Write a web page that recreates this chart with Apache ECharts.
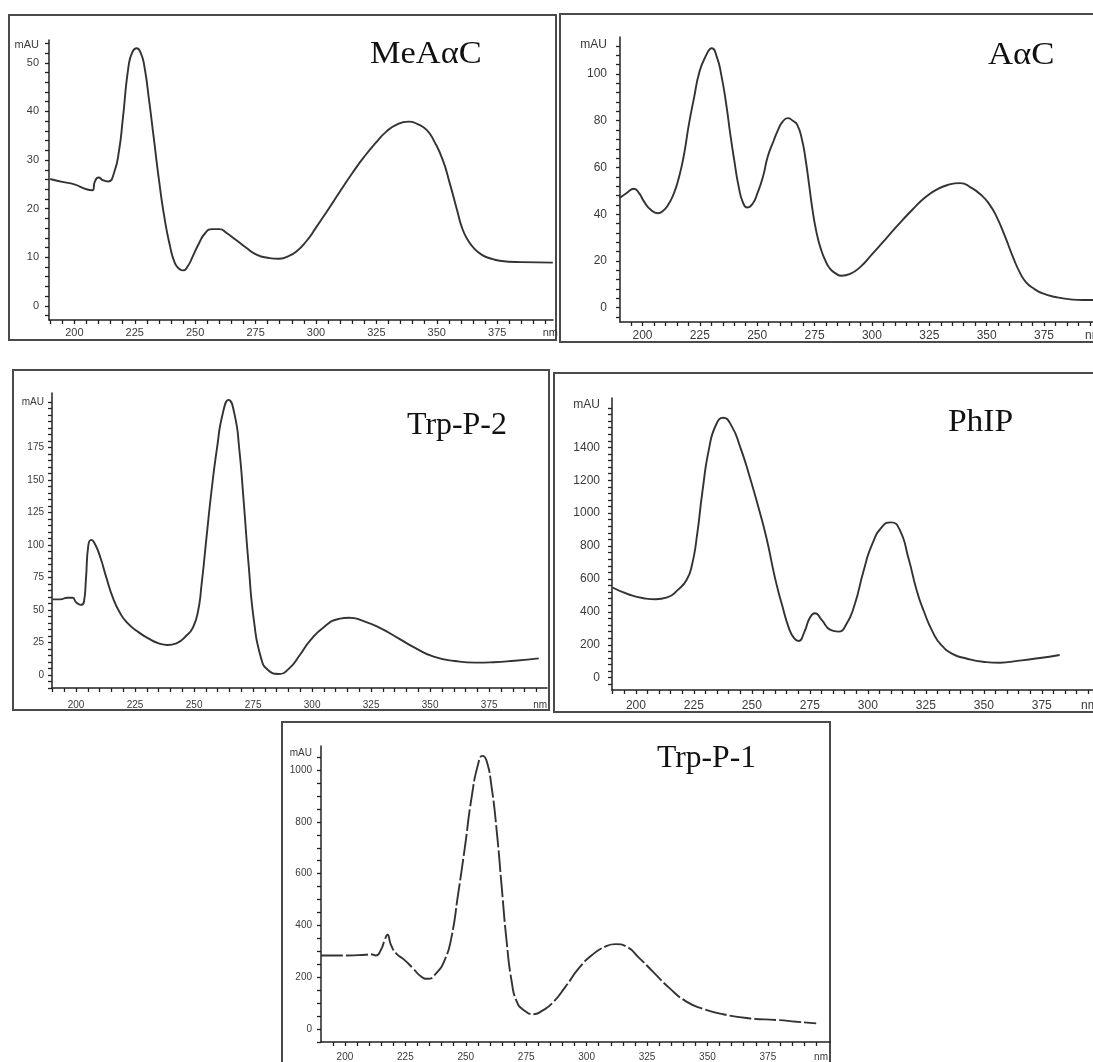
<!DOCTYPE html>
<html><head><meta charset="utf-8">
<script src="https://cdn.jsdelivr.net/npm/echarts@6/dist/echarts.min.js"></script>
<style>html,body{margin:0;padding:0;background:#fff}#c{width:1093px;height:1062px}</style>
</head><body><div id="c"></div>
<script>
// ---------- data (wavelength nm / absorbance mAU) ----------
const MEAAC_NM  = [190,195,200,205,207.5,208.5,210,212,214,216.5,218.5,220,222.4,224,225.8,227.5,229,231,232.8,235,237.2,239.5,241.6,243.5,245,247,249,251.5,254.2,257,260,263,266.8,271,275.6,280,284.5,288,291.9,296,300,305,310,315,320,325,329,333,338.4,342,345.8,349,352.5,355.5,358.4,360.5,362.8,365.5,368.7,372,376,385,398];
const MEAAC_MAU = [26.1,25.5,25.0,24.0,23.8,25.6,26.4,25.8,25.6,27.5,32,38.2,49.2,52.2,53.0,52,49.2,42,34.8,26,18.4,12.5,8.8,7.6,7.3,8.2,10.2,12.8,15,15.8,15.8,15,13.6,12,10.5,9.9,9.7,10.1,11.2,13.3,16.1,19.8,23.6,27.3,30.7,33.7,35.8,37.2,37.9,37.4,36.2,33.8,30,25,19.7,16,13.6,11.8,10.5,9.8,9.3,9.0,8.9];

const AAC_NM  = [190,193,196.3,198.5,200.7,203.5,206.7,209,211.2,213.5,215.6,218,220.2,222.5,224.7,227.5,230.2,232.5,234.4,236.5,238.2,240,241.9,243.8,245.7,248,250.1,252.5,254.6,257,259.1,261,263.3,265.5,267.4,269.5,271.1,272.7,274.1,276,277.9,279.8,281.6,284,286.9,290.5,295.1,300,304.1,311,317.6,323,328,333,338.5,343,347.5,351,354.3,358,361.7,364.5,367,370.5,374.5,380,386.5,392,399];
const AAC_MAU = [46.9,49,50.9,49,45.4,42,40.4,41.5,44,48.5,54.7,65,78.3,90,100.4,107.5,111,107,99.3,87,74.7,63,51.9,45,42.9,44.5,49,56,64.7,71,76.1,79.5,81.1,80,78.3,72,63.3,52,41.9,31.5,24.7,20,16.9,14.8,13.7,14.5,17.6,22.8,27.3,35,41.9,47,50.4,52.5,53.3,51.5,48.3,44.5,39,30.5,21.1,15,11.1,8.2,6.1,4.6,3.6,3.3,3.3];

const TRPP2_NM  = [190,193.3,196.3,198.5,200,202,203.3,204.2,205.2,206.4,208.2,210.4,212.7,215.7,218.7,221.6,226.1,230.6,235,238.8,242.5,247,249.3,251.5,253.3,255.2,257.5,259.7,262,264.6,267.2,269.1,270.9,273.1,275.4,278.4,281.3,285.8,290.3,294.8,299.3,305.2,311.2,315.7,321.6,329.1,336.6,344,351.5,360.4,369.4,376.9,385.8,396];
const TRPP2_MAU = [58.2,58.2,59.5,59.5,56,54,56,74.4,100,104,100,89.8,75.7,59,47.5,40.3,33.4,28.2,24.4,23.1,24.4,30.8,35.9,47.5,71.9,105,143.7,174.5,200,211.7,200,174.5,136,84.7,41,12.8,3.8,0.8,5.1,15.4,26.9,37.2,43.1,44.1,41.6,35.9,28.2,20.5,14.1,10.8,9.5,9.8,11,12.8];

const PHIP_NM  = [189.9,197.3,203.3,208.5,213.7,218.2,221.9,224.2,226.4,228.7,231.6,234.6,237.6,241.3,245.1,248.8,252.5,256.3,260,263,266,268.2,270.1,272.7,274.9,277.2,280.1,283.9,287.3,290.6,294.3,298.1,301.8,306.3,310,313.7,317.5,321.2,324.2,327.9,331.6,336.9,342.1,349.6,357,364.5,373.4,382.7];
const PHIP_MAU = [548,504,483,477,489,535,595,686,869,1133,1397,1539,1580,1529,1397,1234,1052,849,605,443,300,240,223,280,361,392,351,290,280,321,443,646,808,920,944,900,727,524,402,280,199,142,118,97,91,102,118,138];

const TRPP1_NM  = [190.1,201,208.6,210.7,212.8,214.9,216.5,217.6,219,221.1,224.6,228.1,231.5,234.3,237.8,241.3,244,246.8,249.6,252.4,255.1,256.9,258.6,260.7,262.8,264.9,266.9,269,271.1,273.9,278.1,281.5,285.7,291.3,296.8,302.4,307.9,312.1,316.3,321.8,327.4,334.3,341.3,348.2,356.5,367.6,378.7,387,395];
const TRPP1_MAU = [284,284,287,289,284,306,345,364,326,293,267,235,203,194,216,267,351,519,700,894,1023,1055,1036,933,765,545,339,183,106,74,57,70,99,164,235,287,319,328,319,274,222,158,106,78,57,41,35,28,22];

// ---------- tick labels ----------
const X_TICK_LABELS = [200,225,250,275,300,325,350,375];
const MEAAC_Y_LABELS = [0,10,20,30,40,50];
const AAC_Y_LABELS   = [0,20,40,60,80,100];
const TRPP2_Y_LABELS = [0,25,50,75,100,125,150,175];
const PHIP_Y_LABELS  = [0,200,400,600,800,1000,1200,1400];
const TRPP1_Y_LABELS = [0,200,400,600,800,1000];
const TITLES = ['MeA\u03b1C','A\u03b1C','Trp-P-2','PhIP','Trp-P-1'];

// ---------- layout ----------
const panels = [
  {nm:MEAAC_NM, mau:MEAAC_MAU, ylab:MEAAC_Y_LABELS, ystep:2,
   grid:{left:49,top:40,width:504,height:280}, x:[189.5,398.1], y:[-2.9,54.7], mauAt:53.6, nmAt:397,
   fs:11, ym:10, xm:7, box:[9,15,547,325], title:{x:370,y:55,sx:1.11}, dash:'solid'},
  {nm:AAC_NM, mau:AAC_MAU, ylab:AAC_Y_LABELS, ystep:4,
   grid:{left:620,top:37,width:480,height:285}, x:[190.2,399.4], y:[-6.1,115.8], mauAt:112.4, nmAt:396.5,
   fs:12, ym:13, xm:8, box:[560,14,560,328], title:{x:988,y:55.5,sx:1.12}, dash:'solid'},
  {nm:TRPP2_NM, mau:TRPP2_MAU, ylab:TRPP2_Y_LABELS, ystep:5,
   grid:{left:52,top:393,width:495,height:295}, x:[189.8,399.5], y:[-10,217], mauAt:210, nmAt:396.6,
   fs:10, ym:8, xm:12, box:[13,370,536,340], title:{x:407,y:426,sx:1.03}, dash:'solid'},
  {nm:PHIP_NM, mau:PHIP_MAU, ylab:PHIP_Y_LABELS, ystep:40,
   grid:{left:612,top:398,width:488,height:292}, x:[189.7,400.1], y:[-75,1700], mauAt:1657, nmAt:395.5,
   fs:12, ym:12, xm:10, box:[554,373,560,339], title:{x:948,y:423,sx:1.08}, dash:'solid'},
  {nm:TRPP1_NM, mau:TRPP1_MAU, ylab:TRPP1_Y_LABELS, ystep:50,
   grid:{left:321,top:746,width:509,height:296}, x:[190.1,400.7], y:[-50,1093], mauAt:1066, nmAt:397,
   fs:10, ym:9, xm:10, box:[282,722,548,360], title:{x:657,y:759,sx:1.02}, dash:[22,3]}
];

function stepValues(lo, hi, step){
  const out=[]; let v=Math.ceil(lo/step)*step;
  for(; v<=hi+1e-9; v+=step) out.push(+v.toFixed(6));
  return out;
}

const grids=[], xAxes=[], yAxes=[], series=[], graphics=[];
const AX = '#222', LAB = '#3a3a3a';
panels.forEach((p,i)=>{
  grids.push(Object.assign({outerBoundsMode:'none', containLabel:false}, p.grid));
  const xt = stepValues(p.x[0], p.x[1]-3, 5);
  xAxes.push({
    type:'value', gridIndex:i, min:p.x[0], max:p.x[1],
    axisLine:{show:true, onZero:false, lineStyle:{color:AX, width:1.5}},
    axisTick:{show:true, customValues:xt, length:4, lineStyle:{color:AX, width:1.3}},
    axisLabel:{customValues:X_TICK_LABELS.concat([p.nmAt]), margin:p.xm, fontSize:p.fs, color:LAB,
      fontFamily:'Liberation Sans, Arial, sans-serif',
      formatter:v=> (v===p.nmAt ? 'nm' : String(v))},
    splitLine:{show:false}
  });
  const yt = stepValues(p.y[0], p.mauAt+ (p.y[1]-p.mauAt)*0.5, p.ystep);
  yAxes.push({
    type:'value', gridIndex:i, min:p.y[0], max:p.y[1],
    axisLine:{show:true, onZero:false, lineStyle:{color:AX, width:1.5}},
    axisTick:{show:true, customValues:yt, length:4, lineStyle:{color:AX, width:1.3}},
    axisLabel:{customValues:p.ylab.concat([p.mauAt]), margin:p.ym, fontSize:p.fs, color:LAB,
      fontFamily:'Liberation Sans, Arial, sans-serif',
      formatter:v=> (v===p.mauAt ? 'mAU' : String(v))},
    splitLine:{show:false}
  });
  series.push({
    type:'line', xAxisIndex:i, yAxisIndex:i, showSymbol:false, smooth:0.55,
    data:p.nm.map((x,k)=>[x,p.mau[k]]),
    lineStyle:{color:'#333', width:1.9, type:p.dash}, animation:false, silent:true
  });
  graphics.push({type:'rect', shape:{x:p.box[0], y:p.box[1], width:p.box[2], height:p.box[3]},
    style:{fill:'none', stroke:'#4a4a4a', lineWidth:2}, z:-1});
  graphics.push({type:'text', x:p.title.x, y:p.title.y, scaleX:p.title.sx,
    style:{text:TITLES[i], font:'31px "Liberation Serif", "Times New Roman", serif', fill:'#111',
      verticalAlign:'middle'}});
});

const chart = echarts.init(document.getElementById('c'), null, {renderer:'canvas'});
chart.setOption({
  backgroundColor:'#fff', animation:false,
  grid:grids, xAxis:xAxes, yAxis:yAxes, series:series, graphic:graphics
});
</script>
</body></html>
